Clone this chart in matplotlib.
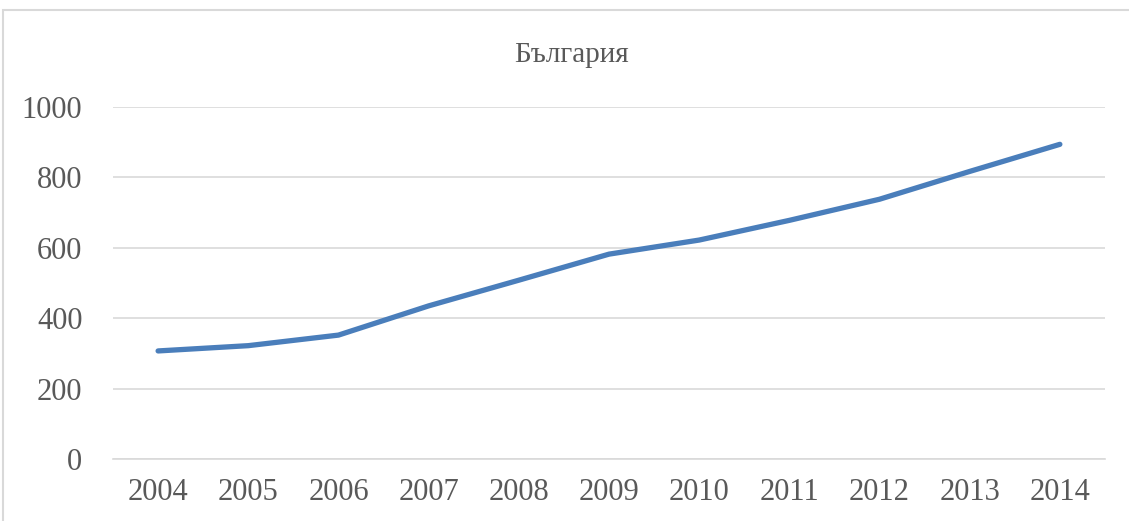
import matplotlib.pyplot as plt
import matplotlib.patches as patches

years = [2004, 2005, 2006, 2007, 2008, 2009, 2010, 2011, 2012, 2013, 2014]
values = [307, 322, 352, 435, 508, 582, 622, 678, 738, 817, 894]
yticks = [0, 200, 400, 600, 800, 1000]

plt.rcParams['font.family'] = ['Liberation Serif', 'DejaVu Serif']

fig = plt.figure(figsize=(11.29, 5.21), dpi=100)
ax = fig.add_axes([0.1001, 0.119, 0.8786, 0.6756])

# chart frame (partly off the image, as in the source)
fig.patches.append(patches.Rectangle((3 / 1129, -0.05), 1.2, (521 - 10) / 521 + 0.05,
                                     transform=fig.transFigure, fill=False,
                                     edgecolor='#d9d9d9', linewidth=1.5))

ax.plot(years, values, color='#4a7ebb', linewidth=3.8, solid_capstyle='round')

ax.set_xlim(2003.5, 2014.5)
ax.set_ylim(0, 1000)
ax.set_xticks(years)
ax.set_yticks(yticks)
ax.grid(axis='y', color='#d9d9d9', linewidth=1.2)
ax.set_axisbelow(True)
for s in ['top', 'right', 'left']:
    ax.spines[s].set_visible(False)
ax.spines['bottom'].set_color('#d9d9d9')
ax.spines['bottom'].set_linewidth(1.2)
ax.tick_params(axis='both', length=0, labelsize=22, colors='#595959')
ax.tick_params(axis='x', pad=14)
ax.tick_params(axis='y', pad=22)

fig.text(0.5066, 1 - 55 / 521, 'България', ha='center', va='center',
         fontsize=21, color='#595959')

fig.savefig('out.png', dpi=100)
